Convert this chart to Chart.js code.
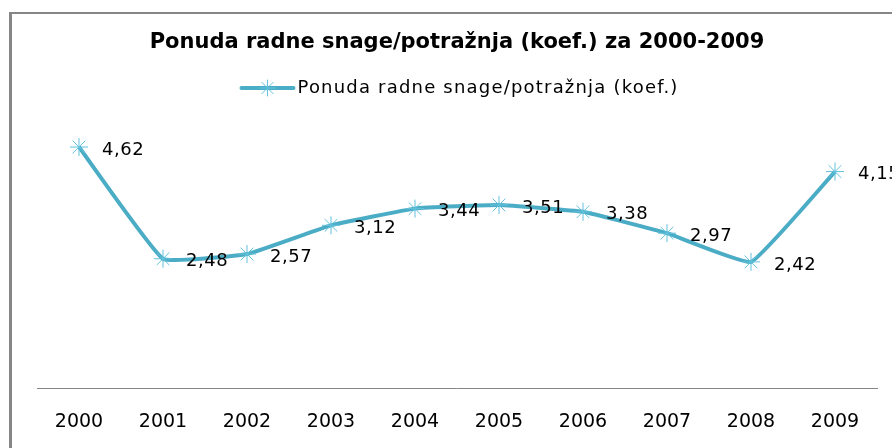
<!DOCTYPE html>
<html>
<head>
<meta charset="utf-8">
<script src="https://cdn.jsdelivr.net/npm/chart.js@4/dist/chart.umd.min.js"></script>
<style>
  html, body { margin: 0; padding: 0; background: #fff; overflow: hidden; width: 892px; height: 448px; }
  #frame { position: absolute; left: 9px; top: 12px; width: 1000px; height: 600px;
           border-left: 3px solid #868686; border-top: 2px solid #868686; }
  #wrap { position: absolute; left: 0; top: 0; width: 892px; height: 448px; }
</style>
</head>
<body>
<div id="frame"></div>
<div id="wrap"><canvas id="c" width="892" height="448"></canvas></div>
<script>
const titleText = 'Ponuda radne snage/potražnja (koef.) za 2000-2009';
const seriesName = 'Ponuda radne snage/potražnja (koef.)';
const years = ['2000','2001','2002','2003','2004','2005','2006','2007','2008','2009'];
const values = [4.62, 2.48, 2.57, 3.12, 3.44, 3.51, 3.38, 2.97, 2.42, 4.15];
const valueLabels = ['4,62','2,48','2,57','3,12','3,44','3,51','3,38','2,97','2,42','4,15'];

const lineColor = '#4BACC6';
const markerColor = '#62C2DC';

const dataLabelPlugin = {
  id: 'dataLabels',
  afterDatasetsDraw(chart) {
    const ctx = chart.ctx;
    const meta = chart.getDatasetMeta(0);
    ctx.save();
    ctx.font = '18px "DejaVu Sans"';
    ctx.letterSpacing = '0.5px';
    ctx.fillStyle = '#000';
    ctx.textAlign = 'left';
    ctx.textBaseline = 'middle';
    meta.data.forEach((pt, i) => {
      ctx.fillText(valueLabels[i], pt.x + 23, pt.y + 3);
    });
    ctx.restore();
  }
};

const legendPlugin = {
  id: 'customLegend',
  afterDraw(chart) {
    const ctx = chart.ctx;
    ctx.save();
    ctx.font = '18px "DejaVu Sans"';
    ctx.letterSpacing = '1.2px';
    const textW = ctx.measureText(seriesName).width;
    const symW = 52, gap = 4;
    const total = symW + gap + textW;
    const cx = 460;
    const x0 = cx - total / 2;
    const y = 88;
    ctx.strokeStyle = lineColor;
    ctx.lineWidth = 4;
    ctx.lineCap = 'round';
    ctx.beginPath();
    ctx.moveTo(x0, y);
    ctx.lineTo(x0 + symW, y);
    ctx.stroke();
    ctx.strokeStyle = markerColor;
    ctx.lineWidth = 1;
    Chart.helpers.drawPoint(ctx, {pointStyle: 'star', radius: 8, rotation: 0, borderWidth: 1}, x0 + symW / 2, y);
    ctx.fillStyle = '#000';
    ctx.textAlign = 'left';
    ctx.textBaseline = 'middle';
    ctx.fillText(seriesName, x0 + symW + gap, y);
    ctx.restore();
  }
};

new Chart(document.getElementById('c'), {
  type: 'line',
  data: {
    labels: years,
    datasets: [{
      label: seriesName,
      data: values,
      borderColor: lineColor,
      borderWidth: 4,
      tension: 0.1,
      pointStyle: 'star',
      pointRadius: 9,
      pointBorderWidth: 1,
      pointBorderColor: markerColor,
      pointBackgroundColor: markerColor,
      fill: false
    }]
  },
  options: {
    responsive: false,
    animation: false,
    layout: { padding: { left: 37, right: 15, top: 0, bottom: -7 } },
    plugins: {
      legend: { display: false },
      tooltip: { enabled: false },
      title: {
        display: true,
        text: titleText,
        color: '#000',
        font: { family: '"DejaVu Sans"', size: 21, weight: 'bold' },
        padding: { top: 30, bottom: 72 }
      }
    },
    scales: {
      x: {
        offset: true,
        grid: { display: false, drawTicks: false },
        border: { display: true, color: '#868686', width: 1 },
        ticks: { color: '#000', padding: 22, font: { family: '"DejaVu Sans"', size: 19 } }
      },
      y: {
        display: false,
        min: 0,
        max: 5
      }
    }
  },
  plugins: [dataLabelPlugin, legendPlugin]
});
</script>
</body>
</html>
